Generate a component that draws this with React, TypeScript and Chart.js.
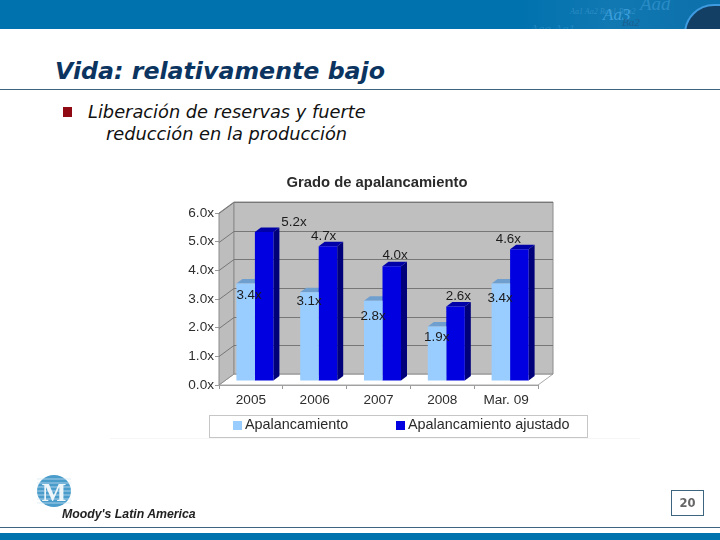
import React, { useEffect, useRef } from "react";
import { Chart, registerables } from "chart.js";

Chart.register(...registerables);

const categories = ["2005", "2006", "2007", "2008", "Mar. 09"];
const apalancamiento = [3.4, 3.1, 2.8, 1.9, 3.4];
const ajustado = [5.2, 4.7, 4.0, 2.6, 4.6];
const seriesNames = ["Apalancamiento", "Apalancamiento ajustado"];
const chartTitle = "Grado de apalancamiento";
const slideTitle = "Vida: relativamente bajo";
const bulletLines = ["Liberación de reservas y fuerte", "reducción en la producción"];
const footerName = "Moody's Latin America";
const pageNumber = "20";

// label offsets from the top centre of each bar (the source chart's labels were hand placed)
const lightLabelOffsets = [[7.4, 8], [3.6, 5], [3.8, 11.6], [3.7, 7], [3.2, 10.5]];
const darkLabelOffsets = [[33.8, -13.7], [-0.3, -13.8], [7.3, -14.9], [6.8, -14.5], [-7, -14.3]];

const FONT = '"Liberation Sans", Arial, sans-serif';
const WALL_DX = 15;
const WALL_DY = 11;
const BAR_SHIFT_X = 4;
const BAR_SHIFT_Y = 4;
const BAR_DX = 6;
const BAR_DY = 4.5;

const poly = (ctx: CanvasRenderingContext2D, pts: number[][], fill: string | null, stroke?: string) => {
  ctx.beginPath();
  pts.forEach((p, i) => (i ? ctx.lineTo(p[0], p[1]) : ctx.moveTo(p[0], p[1])));
  ctx.closePath();
  if (fill) {
    ctx.fillStyle = fill;
    ctx.fill();
  }
  if (stroke) {
    ctx.strokeStyle = stroke;
    ctx.lineWidth = 1;
    ctx.stroke();
  }
};

const box3d = {
  id: "box3d",
  beforeDatasetsDraw(chart: any) {
    const { ctx, chartArea: a, scales } = chart;
    const y = scales.y;
    ctx.save();
    // floor
    poly(ctx, [[a.left, a.bottom], [a.left + WALL_DX, a.bottom - WALL_DY], [a.right + WALL_DX, a.bottom - WALL_DY], [a.right, a.bottom]], "#ffffff", "#a8a8a8");
    // left wall
    poly(ctx, [[a.left, a.top], [a.left + WALL_DX, a.top - WALL_DY], [a.left + WALL_DX, a.bottom - WALL_DY], [a.left, a.bottom]], "#bdbdbd", "#8c8c8c");
    // back wall
    poly(ctx, [[a.left + WALL_DX, a.top - WALL_DY], [a.right + WALL_DX, a.top - WALL_DY], [a.right + WALL_DX, a.bottom - WALL_DY], [a.left + WALL_DX, a.bottom - WALL_DY]], "#bfbfbf", "#8c8c8c");
    // gridlines on the walls
    ctx.strokeStyle = "#777777";
    ctx.lineWidth = 1;
    y.ticks.forEach((t: any) => {
      const py = Math.round(y.getPixelForValue(t.value)) + 0.5;
      if (t.value === 0) return;
      ctx.beginPath();
      ctx.moveTo(a.left, py);
      ctx.lineTo(a.left + WALL_DX, py - WALL_DY);
      ctx.lineTo(a.right + WALL_DX, py - WALL_DY);
      ctx.stroke();
    });
    // side and top faces of the bars
    const faces = [
      { side: "#7aa3cc", top: "#6f9fcf" },
      { side: "#00007a", top: "#0000a8" },
    ];
    [0, 1].forEach((d) => {
      chart.getDatasetMeta(d).data.forEach((bar: any) => {
        const l = bar.x - bar.width / 2 + BAR_SHIFT_X;
        const r = bar.x + bar.width / 2 + BAR_SHIFT_X;
        const t = bar.y - BAR_SHIFT_Y;
        const b = bar.base - BAR_SHIFT_Y;
        poly(ctx, [[r, t], [r + BAR_DX, t - BAR_DY], [r + BAR_DX, b - BAR_DY], [r, b]], faces[d].side);
        poly(ctx, [[l, t], [l + BAR_DX, t - BAR_DY], [r + BAR_DX, t - BAR_DY], [r, t]], faces[d].top);
      });
    });
    ctx.restore();
    // the front faces are the library's own bars, shifted into the floor
    ctx.save();
    ctx.translate(BAR_SHIFT_X, -BAR_SHIFT_Y);
  },
  afterDatasetsDraw(chart: any) {
    const { ctx } = chart;
    ctx.restore();
    ctx.save();
    ctx.fillStyle = "#1c1c1c";
    ctx.font = `13.4px ${FONT}`;
    ctx.textAlign = "center";
    ctx.textBaseline = "middle";
    [lightLabelOffsets, darkLabelOffsets].forEach((offs, d) => {
      chart.getDatasetMeta(d).data.forEach((bar: any, i: number) => {
        const v = chart.data.datasets[d].data[i] as number;
        ctx.fillText(`${v.toFixed(1)}x`, bar.x + offs[i][0], bar.y + offs[i][1]);
      });
    });
    ctx.restore();
  },
  afterDraw(chart: any) {
    const { ctx } = chart;
    ctx.save();
    // title
    ctx.fillStyle = "#2b2b2b";
    ctx.font = `bold 14.8px ${FONT}`;
    ctx.textAlign = "center";
    ctx.textBaseline = "middle";
    ctx.fillText(chartTitle, 377, 183);
    // legend
    ctx.fillStyle = "#f6f6f6";
    ctx.fillRect(110, 438, 530, 1);
    ctx.fillStyle = "#ffffff";
    ctx.strokeStyle = "#c6c6c6";
    ctx.lineWidth = 1;
    ctx.fillRect(209.5, 415.5, 378, 22);
    ctx.strokeRect(209.5, 415.5, 378, 22);
    ctx.font = `14.4px ${FONT}`;
    ctx.textAlign = "left";
    ctx.fillStyle = "#99ccff";
    ctx.fillRect(233, 421, 9, 9);
    ctx.fillStyle = "#0000e0";
    ctx.fillRect(396, 421, 9, 9);
    ctx.fillStyle = "#2a2a2a";
    ctx.fillText(chart.data.datasets[0].label, 245, 425);
    ctx.fillText(chart.data.datasets[1].label, 408, 425);
    ctx.restore();
  },
};

export default function App() {
  const ref = useRef<HTMLCanvasElement>(null);
  useEffect(() => {
    const chart = new Chart(ref.current!, {
      type: "bar",
      data: {
        labels: categories,
        datasets: [
          { label: seriesNames[0], data: apalancamiento, backgroundColor: "#99ccff", clip: false } as any,
          { label: seriesNames[1], data: ajustado, backgroundColor: "#0000e0", clip: false } as any,
        ],
      },
      plugins: [box3d],
      options: {
        animation: false,
        responsive: false,
        events: [],
        layout: { padding: { top: 213, right: 182, left: 0, bottom: 0 } },
        datasets: { bar: { categoryPercentage: 0.58, barPercentage: 1 } },
        plugins: { legend: { display: false }, title: { display: false }, tooltip: { enabled: false } },
        scales: {
          x: {
            afterFit: (s: any) => { s.height = 155; },
            grid: { display: true, drawOnChartArea: false, tickLength: 4, color: "#9a9a9a" },
            border: { color: "#9a9a9a" },
            ticks: { color: "#2e2e2e", padding: 3, font: { family: FONT, size: 13.6 }, maxRotation: 0 },
          },
          y: {
            min: 0,
            max: 6,
            afterFit: (s: any) => { s.width = 219; },
            grid: { display: true, drawOnChartArea: false, tickLength: 4, color: "#9a9a9a" },
            border: { color: "#9a9a9a" },
            ticks: {
              stepSize: 1,
              color: "#2e2e2e",
              padding: 1,
              font: { family: FONT, size: 13.6 },
              callback: (v: any) => `${Number(v).toFixed(1)}x`,
            },
          },
        },
      },
    } as any);
    return () => chart.destroy();
  }, []);

  const abs = (s: React.CSSProperties): React.CSSProperties => ({ position: "absolute", whiteSpace: "nowrap", ...s });
  const deco = (left: number, top: number, size: number, color: string, text: string) => (
    <div style={abs({ left, top, fontFamily: "'Liberation Serif'", fontStyle: "italic", fontSize: size, lineHeight: "16px", color })}>{text}</div>
  );

  return (
    <div style={{ position: "fixed", left: 0, top: 0, width: 720, height: 540, background: "#fff", overflow: "hidden" }}>
      <div style={abs({ left: 0, top: 0, width: 720, height: 29, overflow: "hidden", background: "linear-gradient(90deg,#0072ae 0%,#0072ae 72%,#1178b2 85%,#0c70aa 100%)" })}>
        {deco(570, 4, 8, "#2c8cc4", "Aa1   Aa2   Baa1   Baa2")}
        {deco(603, 7, 17, "#3d9fdc", "Aa3")}
        {deco(640, -4, 19, "#2a8cc6", "Aad")}
        {deco(622, 14, 11, "#1b5f8e", "Ba2")}
        {deco(530, 21, 13, "#1f86c0", "Aaa  Aa1")}
        <div style={abs({ left: 684, top: 4, width: 60, height: 60, borderRadius: 30, background: "#123f63", border: "2px solid #3f9be0" })} />
      </div>
      <div style={abs({ left: 0, top: 89, width: 720, height: 1, background: "#3d6580" })} />
      <div style={abs({ left: 55, top: 56, fontFamily: "'DejaVu Sans'", fontWeight: 700, fontStyle: "italic", fontSize: 23.7, lineHeight: "30px", color: "#0b3560" })}>{slideTitle}</div>
      <div style={abs({ left: 63, top: 107, width: 9, height: 10, background: "#8f0a12" })} />
      <div style={abs({ left: 88, top: 101, fontFamily: "'DejaVu Sans'", fontStyle: "italic", fontSize: 17.8, lineHeight: "22px", color: "#111" })}>{bulletLines[0]}</div>
      <div style={abs({ left: 106, top: 123, fontFamily: "'DejaVu Sans'", fontStyle: "italic", fontSize: 17.8, lineHeight: "22px", color: "#111" })}>{bulletLines[1]}</div>
      <canvas ref={ref} width={720} height={540} style={{ position: "absolute", left: 0, top: 0, width: 720, height: 540 }} />
      <svg width={40} height={40} style={{ position: "absolute", left: 35, top: 473 }}>
        <ellipse cx={19} cy={18} rx={17} ry={16} fill="#4a9ccb" />
        {[6, 10, 14, 18, 22, 26, 30].map((y) => (
          <line key={y} x1={2} x2={36} y1={y} y2={y} stroke="#d3e8f3" strokeWidth={0.7} />
        ))}
        <text x={19} y={28} textAnchor="middle" fontFamily="'Liberation Serif'" fontSize={26} fontWeight={700} fill="#eef6fa">M</text>
      </svg>
      <div style={abs({ left: 62, top: 507, fontFamily: FONT, fontWeight: 700, fontStyle: "italic", fontSize: 12.3, lineHeight: "14px", color: "#222" })}>{footerName}</div>
      <div style={abs({ left: 671, top: 490, width: 31, height: 24, border: "1px solid #3d6580", textAlign: "center", fontFamily: "'DejaVu Sans'", fontWeight: 700, fontSize: 11.5, lineHeight: "24px", color: "#666" })}>{pageNumber}</div>
      <div style={abs({ left: 0, top: 527, width: 720, height: 1, background: "#3d6580" })} />
      <div style={abs({ left: 0, top: 533, width: 720, height: 7, background: "#0072ae" })} />
    </div>
  );
}
